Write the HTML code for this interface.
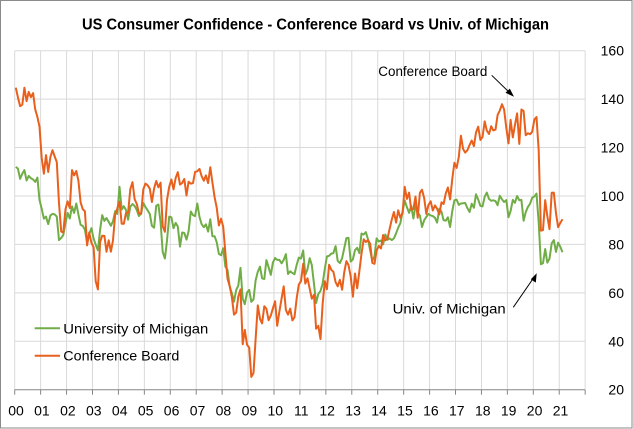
<!DOCTYPE html>
<html>
<head>
<meta charset="utf-8">
<style>
  html, body { margin:0; padding:0; background:#fff; }
  svg { display:block; }
  text { font-family: "Liberation Sans", Arial, sans-serif; fill:#000; }
</style>
</head>
<body>
<svg id="chart" width="633" height="429" viewBox="0 0 633 429" xmlns="http://www.w3.org/2000/svg">
  <rect x="0" y="0" width="633" height="429" fill="#fff"/>
  <rect x="0.5" y="0.5" width="631.5" height="427.5" fill="none" stroke="#8a8a8a" stroke-width="1"/>

  <g id="grid" stroke="#d9d9d9" stroke-width="1"></g>

  <text x="315.5" y="29.5" font-size="16" font-weight="bold" text-anchor="middle" textLength="467" lengthAdjust="spacingAndGlyphs">US Consumer Confidence - Conference Board vs Univ. of Michigan</text>

  <g id="ylabels" font-size="14" text-anchor="end"></g>
  <g id="xlabels" font-size="14" text-anchor="middle"></g>

  <line x1="14.7" y1="389.7" x2="585" y2="389.7" stroke="#868686" stroke-width="1"/>
  <g id="ticks" stroke="#868686" stroke-width="1"></g>

  <polyline id="umich" fill="none" stroke="#70ad47" stroke-width="2" stroke-linejoin="round"/>
  <polyline id="cb" fill="none" stroke="#e8601c" stroke-width="2" stroke-linejoin="round"/>

  <!-- legend -->
  <line x1="34.7" y1="328.3" x2="60" y2="328.3" stroke="#70ad47" stroke-width="2"/>
  <text x="63.3" y="333.3" font-size="14" textLength="145" lengthAdjust="spacingAndGlyphs">University of Michigan</text>
  <line x1="34.7" y1="355.7" x2="60" y2="355.7" stroke="#e8601c" stroke-width="2"/>
  <text x="63.3" y="360.7" font-size="14" textLength="116" lengthAdjust="spacingAndGlyphs">Conference Board</text>

  <!-- annotations -->
  <text x="378.3" y="76" font-size="13.5" textLength="109" lengthAdjust="spacingAndGlyphs">Conference Board</text>
  <line x1="491.7" y1="75.3" x2="510" y2="93" stroke="#000" stroke-width="1"/>
  <polygon points="514,96.7 505.5,92.8 509.8,88.6" fill="#000"/>

  <text x="392.7" y="313.3" font-size="13.5" textLength="113" lengthAdjust="spacingAndGlyphs">Univ. of Michigan</text>
  <line x1="513.3" y1="307.3" x2="533.5" y2="278" stroke="#000" stroke-width="1"/>
  <polygon points="536.7,273.3 535.8,282.6 530.8,279.2" fill="#000"/>
</svg>
<script>
(function(){
  var NS = "http://www.w3.org/2000/svg";
  var x0 = 14.7, yw = 25.93;
  function X(i){ return x0 + (i + 0.5) * yw / 12; }
  function Y(v){ return 389.7 - (v - 20) * 2.4215; }
  var grid = document.getElementById('grid');
  for (var v = 40; v <= 160; v += 20) {
    var l = document.createElementNS(NS,'line');
    l.setAttribute('x1', x0); l.setAttribute('x2', x0 + 22*yw);
    l.setAttribute('y1', Y(v)); l.setAttribute('y2', Y(v));
    grid.appendChild(l);
  }
  for (var k = 0; k <= 22; k++) {
    var xx = x0 + k*yw;
    var l2 = document.createElementNS(NS,'line');
    l2.setAttribute('x1', xx); l2.setAttribute('x2', xx);
    l2.setAttribute('y1', Y(160)); l2.setAttribute('y2', Y(20));
    grid.appendChild(l2);
    var t = document.createElementNS(NS,'line');
    t.setAttribute('x1', xx); t.setAttribute('x2', xx);
    t.setAttribute('y1', 389.7); t.setAttribute('y2', 394.7);
    document.getElementById('ticks').appendChild(t);
    if (k <= 21) {
      var tx = document.createElementNS(NS,'text');
      tx.setAttribute('x', xx + 1.3); tx.setAttribute('y', 415.7);
      tx.textContent = (k < 10 ? '0' : '') + k;
      document.getElementById('xlabels').appendChild(tx);
    }
  }
  for (var v2 = 20; v2 <= 160; v2 += 20) {
    var ty = document.createElementNS(NS,'text');
    ty.setAttribute('x', 624); ty.setAttribute('y', Y(v2) + 5);
    ty.textContent = v2;
    document.getElementById('ylabels').appendChild(ty);
  }
  var cb = [
  144.7,140.8,137.1,137.7,144.7,139.2,143.0,140.8,142.5,135.8,132.6,128.6,
  115.7,109.2,116.9,109.9,116.1,118.9,116.3,114.0,97.0,85.3,84.9,94.6,
  97.8,95.0,110.7,108.5,110.3,106.3,97.4,94.5,93.7,79.6,84.9,80.7,
  78.8,64.8,61.4,81.0,83.6,83.5,77.0,81.7,77.0,81.7,92.5,94.8,
  97.7,88.5,88.5,93.0,93.1,102.8,105.7,98.7,96.7,92.9,92.6,102.7,
  105.1,104.4,103.0,97.5,103.1,106.2,103.6,105.5,87.5,85.2,98.3,103.8,
  106.8,102.7,107.5,109.8,104.7,105.4,107.0,100.2,105.9,105.1,105.3,110.0,
  110.2,111.2,108.2,106.3,108.5,105.3,111.9,105.6,99.5,95.2,87.8,90.6,
  87.3,76.4,65.9,62.8,58.1,51.0,51.9,58.5,61.4,38.8,44.7,38.6,
  37.4,25.3,26.9,40.8,54.8,49.3,47.4,54.5,53.4,48.7,50.6,53.6,
  56.5,46.4,52.3,57.7,62.7,52.9,51.0,53.5,48.6,49.9,57.8,63.4,
  64.8,72.0,63.8,66.0,61.7,57.6,59.2,45.2,46.4,40.9,55.2,64.8,
  61.5,71.6,69.5,68.7,64.4,62.7,65.4,61.3,68.4,73.1,71.5,66.7,
  58.4,68.0,61.9,69.0,76.2,82.1,81.0,81.8,80.2,72.4,72.0,77.5,
  79.4,78.3,83.9,81.7,82.2,86.4,90.3,93.4,89.0,94.1,91.0,93.1,
  103.8,98.8,101.4,94.3,94.6,99.8,91.0,101.3,102.6,99.1,92.6,96.3,
  97.8,94.0,96.1,94.7,92.4,97.4,96.7,101.1,103.5,98.6,107.1,113.7,
  111.6,116.1,124.9,119.4,117.9,118.9,121.1,122.9,120.6,126.2,128.6,123.1,
  124.3,130.8,127.0,125.6,128.8,127.1,127.4,133.4,135.3,137.9,135.7,128.1,
  121.7,131.4,124.2,129.2,134.1,121.5,135.7,135.1,125.1,125.9,125.5,126.5,
  131.6,132.6,118.8,85.7,85.9,98.3,91.7,86.3,101.3,101.4,92.9,87.1,
  88.9,90.4];
  var um = [
  112.0,111.3,107.1,109.2,110.7,106.4,108.3,107.3,106.8,105.8,107.6,98.4,
  94.7,90.6,91.5,88.4,92.0,92.6,92.4,91.5,81.8,82.7,83.9,88.8,
  93.0,90.7,95.7,93.0,96.9,92.4,88.1,87.6,86.1,80.6,84.2,86.7,
  82.4,79.9,77.6,86.0,92.1,89.7,90.9,89.3,87.7,89.6,93.7,92.6,
  103.8,94.4,95.8,94.2,90.2,95.6,96.7,95.9,94.2,91.7,92.8,97.1,
  95.5,94.1,92.6,87.7,86.9,96.0,96.5,89.1,76.9,74.2,81.6,91.5,
  91.2,86.7,88.9,87.4,79.1,84.9,84.7,82.0,85.4,93.6,92.1,91.7,
  96.9,91.3,88.4,87.1,88.3,85.3,90.4,83.4,83.4,80.9,76.1,75.5,
  78.4,70.8,69.5,62.6,59.8,56.4,61.2,63.0,70.3,57.6,55.3,60.1,
  61.2,56.3,57.3,65.1,68.7,70.8,66.0,65.7,73.5,70.6,67.4,72.5,
  74.4,73.6,73.6,72.2,73.6,76.0,67.8,68.9,68.2,67.7,71.6,74.5,
  74.2,77.5,67.5,69.8,74.3,71.5,63.7,55.8,59.5,60.8,63.7,69.9,
  75.0,75.3,76.2,76.4,79.3,73.2,72.3,74.3,78.3,82.6,82.7,72.9,
  73.8,77.6,78.6,76.4,84.5,84.1,85.1,82.1,77.5,73.2,75.1,82.5,
  81.2,81.6,80.0,84.1,81.9,82.5,81.8,82.5,84.6,86.9,88.8,93.6,
  98.1,95.4,93.0,95.9,90.7,96.1,93.1,91.9,87.2,90.0,91.3,92.6,
  92.0,91.7,91.0,89.0,94.7,93.5,90.0,89.8,91.2,87.2,93.8,98.2,
  98.5,96.3,96.9,97.0,97.1,95.0,93.4,96.8,95.1,100.7,98.5,95.9,
  95.7,99.7,101.4,98.8,98.0,98.2,97.9,96.2,100.1,98.6,97.5,98.3,
  91.2,93.8,98.4,97.2,100.0,98.2,98.4,89.8,93.2,95.5,96.8,99.3,
  99.8,101.0,89.1,71.8,72.3,78.1,72.5,74.1,80.4,81.8,76.9,80.7,
  79.0,76.8];
  function pts(a){ return a.map(function(v,i){ return X(i).toFixed(1)+','+Y(v).toFixed(1); }).join(' '); }
  document.getElementById('cb').setAttribute('points', pts(cb));
  document.getElementById('umich').setAttribute('points', pts(um));
})();
</script>
</body>
</html>
